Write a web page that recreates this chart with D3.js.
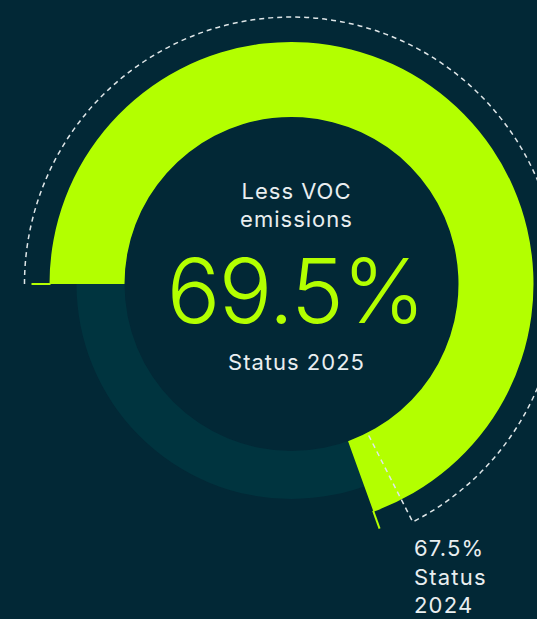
<!DOCTYPE html>
<html>
<head>
<meta charset="utf-8">
<script src="https://cdn.jsdelivr.net/npm/d3@7"></script>
<style>
  html, body { margin: 0; padding: 0; background: #022836; }
  svg { display: block; }
  text { font-family: Inter, "Open Sans", sans-serif; }
</style>
</head>
<body>
<svg id="chart" width="537" height="619"></svg>
<script>
// ---- data ----
const currentValue = [69.5];           // Status 2025
const previousValue = [67.5];          // Status 2024
const maxValue = [100];
const titleLines = ["Less VOC", "emissions"];
const currentLabel = ["Status 2025"];
const previousLabelLines = ["67.5%", "Status", "2024"];

// ---- layout ----
const W = 537, H = 619;
const cx = 291.5, cy = 284;
const rInner = 167, rTrack = 215, rValue = 242, rDash = 267, rTick = 260;
const lime = "#b3ff00", track = "#00343f", bg = "#022836", white = "#e9eef0";

const svg = d3.select("#chart");
svg.append("rect").attr("width", W).attr("height", H).attr("fill", bg);
const g = svg.append("g").attr("transform", `translate(${cx},${cy})`);

const angle = d3.scaleLinear().domain([0, maxValue[0]]).range([-Math.PI / 2, 1.5 * Math.PI]);

// background track
g.append("path")
  .attr("d", d3.arc().innerRadius(rInner).outerRadius(rTrack).startAngle(angle(0)).endAngle(angle(maxValue[0]))())
  .attr("fill", track);

// value arc
g.append("path")
  .attr("d", d3.arc().innerRadius(rInner).outerRadius(rValue).startAngle(angle(0)).endAngle(angle(currentValue[0]))())
  .attr("fill", lime);

// tick lines at start and end of value arc
[0, currentValue[0]].forEach(v => {
  const p0 = d3.pointRadial(angle(v), rValue - 1);
  const p1 = d3.pointRadial(angle(v), rTick);
  g.append("line")
    .attr("x1", p0[0]).attr("y1", p0[1]).attr("x2", p1[0]).attr("y2", p1[1])
    .attr("stroke", lime).attr("stroke-width", 2);
});

// dashed previous-status arc + radial line
const dp = d3.path();
dp.arc(0, 0, rDash, angle(0) - Math.PI / 2, angle(previousValue[0]) - Math.PI / 2, false);
const pr1 = d3.pointRadial(angle(previousValue[0]), rInner);
dp.lineTo(pr1[0], pr1[1]);
g.append("path")
  .attr("d", dp.toString())
  .attr("fill", "none")
  .attr("stroke", "#dfe6e8")
  .attr("stroke-width", 1.5)
  .attr("stroke-dasharray", "5,4");

// centre texts
g.selectAll("text.title").data(titleLines).join("text")
  .attr("class", "title")
  .attr("x", 5).attr("y", (d, i) => -85 + i * 28)
  .attr("text-anchor", "middle")
  .attr("fill", white).attr("font-size", 22).attr("letter-spacing", 1)
  .text(d => d);

g.append("text")
  .attr("x", 4).attr("y", 39)
  .attr("text-anchor", "middle")
  .attr("fill", lime).attr("font-size", 89).attr("font-weight", 300)
  .attr("letter-spacing", -1.5)
  .text(d3.format(".1f")(currentValue[0]) + "%");

g.append("text")
  .attr("x", 5).attr("y", 86)
  .attr("text-anchor", "middle")
  .attr("fill", white).attr("font-size", 22).attr("letter-spacing", 1)
  .text(currentLabel[0]);

// previous status label
svg.selectAll("text.prev").data(previousLabelLines).join("text")
  .attr("class", "prev")
  .attr("x", 414).attr("y", (d, i) => 556 + i * 28.5)
  .attr("fill", white).attr("font-size", 22).attr("letter-spacing", 1.2)
  .text(d => d);
</script>
</body>
</html>
